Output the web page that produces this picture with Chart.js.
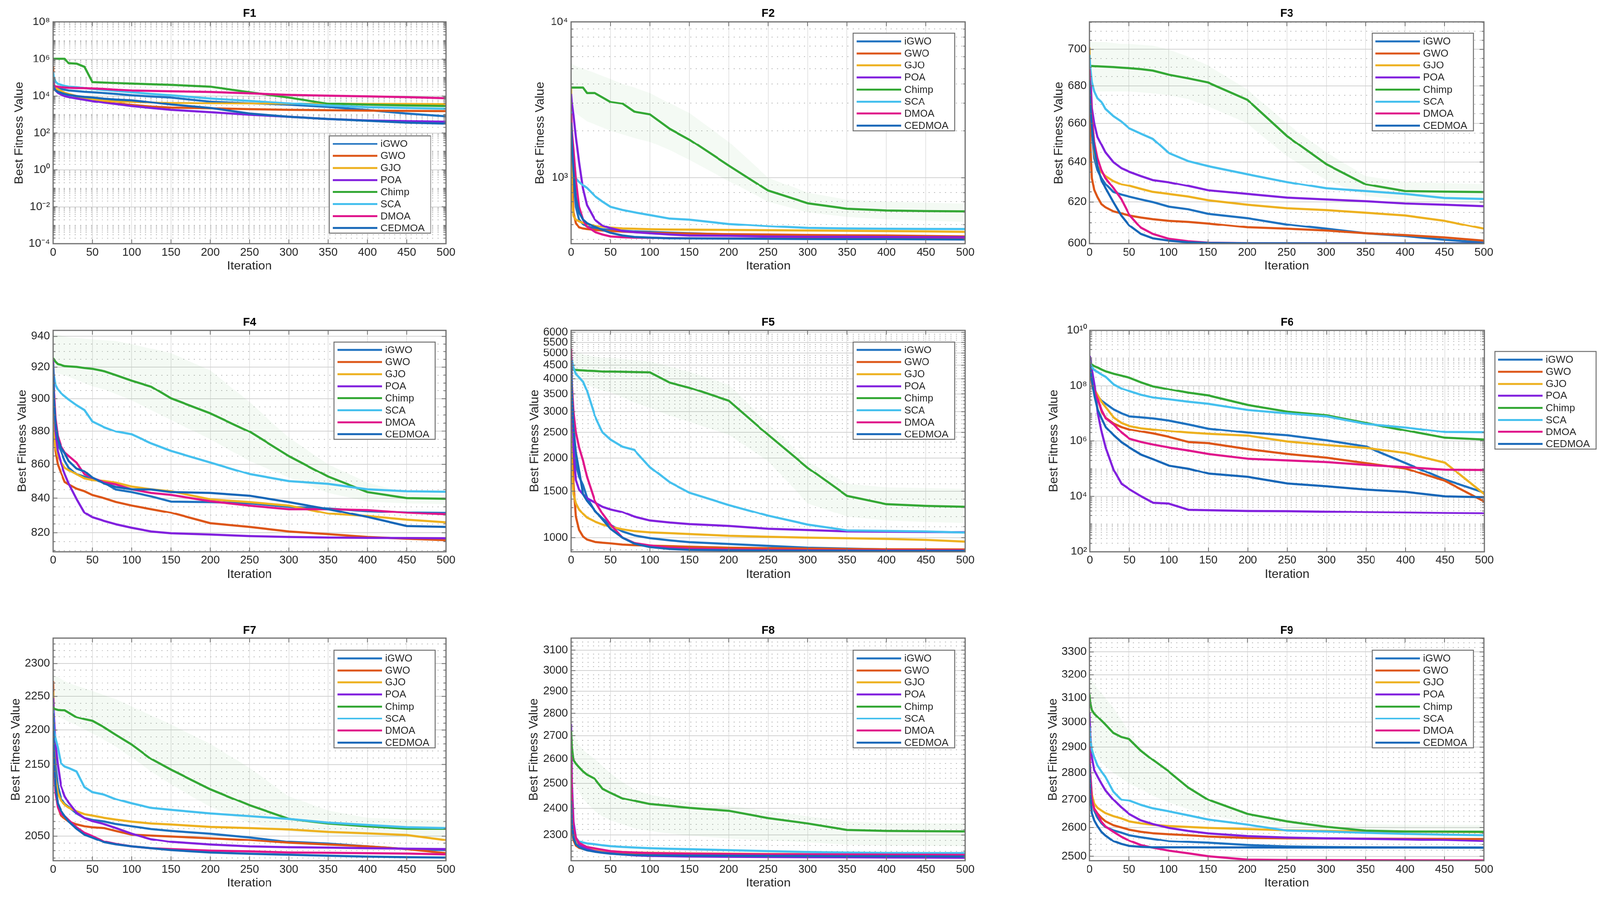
<!DOCTYPE html>
<html><head><meta charset="utf-8">
<script src="https://cdn.jsdelivr.net/npm/chart.js@4.4.1/dist/chart.umd.min.js"></script>
<style>
html,body{margin:0;padding:0;background:#fff;overflow:hidden;}
#root{position:absolute;left:0;top:0;width:4135px;height:2320px;overflow:hidden;background:#fff;}
canvas{position:absolute;}
</style></head><body>
<div id="root"></div>
<script>
// ---------------- DATA ----------------
const ITER = [0,1,3,6,10,15,20,30,40,50,65,80,100,125,150,200,250,300,350,400,450,500];
const X_TICKS = [0,50,100,150,200,250,300,350,400,450,500];
const SERIES = ['iGWO','GWO','GJO','POA','Chimp','SCA','DMOA','CEDMOA'];
const TITLES = ['F1','F2','F3','F4','F5','F6','F7','F8','F9'];

const F1_iGWO   = [6e4,3.5e4,3.0e4,2.7e4,2.4e4,2.2e4,2.0e4,1.85e4,1.7e4,1.6e4,1.45e4,1.3e4,1.1e4,9.5e3,8.3e3,5.0e3,4.0e3,3.3e3,2.5e3,1.7e3,1.1e3,7.9e2];
const F1_GWO    = [4e5,3e4,2.5e4,2.1e4,1.75e4,1.45e4,1.25e4,9.5e3,7.2e3,5.5e3,4.6e3,3.9e3,3.2e3,2.6e3,2.3e3,2.1e3,1.9e3,1.75e3,1.65e3,1.58e3,1.52e3,1.48e3];
const F1_GJO    = [8e4,3.5e4,2.8e4,2.3e4,1.9e4,1.5e4,1.3e4,1.0e4,8.0e3,6.6e3,5.8e3,5.2e3,4.7e3,4.4e3,4.2e3,4.0e3,3.9e3,3.8e3,3.7e3,3.6e3,3.6e3,3.5e3];
const F1_POA    = [1.9e5,3e4,2e4,1.5e4,1.2e4,1.0e4,8.8e3,7.4e3,6.3e3,5.3e3,4.3e3,3.6e3,2.8e3,2.2e3,1.75e3,1.3e3,9.5e2,7.4e2,5.6e2,4.7e2,4.3e2,4.0e2];
const F1_Chimp  = [1.05e6,1.05e6,1.05e6,1.05e6,1.05e6,1.05e6,5.8e5,5.5e5,3.7e5,5.6e4,5.3e4,5.0e4,4.7e4,4.3e4,4.0e4,3.2e4,1.6e4,8.3e3,3.8e3,3.3e3,3.0e3,2.8e3];
const F1_SCA    = [1.9e5,1.0e5,6e4,4.5e4,4.0e4,3.5e4,3.2e4,3.0e4,2.7e4,2.4e4,2.1e4,1.9e4,1.6e4,1.3e4,1.1e4,7.4e3,5.5e3,4.0e3,3.0e3,2.4e3,2.2e3,2.0e3];
const F1_DMOA   = [5.0e4,3.6e4,3.3e4,3.2e4,3.0e4,2.9e4,2.8e4,2.7e4,2.65e4,2.55e4,2.4e4,2.2e4,2.0e4,1.9e4,1.8e4,1.65e4,1.4e4,1.15e4,1.05e4,9.7e3,8.8e3,7.7e3];
const F1_CEDMOA = [4e4,2.5e4,2e4,1.7e4,1.5e4,1.3e4,1.15e4,1.0e4,9.0e3,8.3e3,7.2e3,6.5e3,5.9e3,4.5e3,3.4e3,2.2e3,1.1e3,7.4e2,5.6e2,4.5e2,3.6e2,3.2e2];

const F2_iGWO   = [2201,1800,966,649,538,504,484,472,465,460,455,450,447,442,438,430,427,424,422,420,418,415];
const F2_GWO    = [2795,966,599,511,478,470,466,460,456,453,449,445,441,438,436,432,430,427,425,424,421,418];
const F2_GJO    = [3740,741,568,538,525,513,504,491,482,476,470,468,465,463,462,460,458,456,454,452,450,447];
const F2_POA    = [3456,3000,2513,1827,1260,846,666,538,491,472,453,445,438,430,424,422,418,416,416,415,414,413];
const F2_Chimp  = [3793,3793,3793,3793,3793,3793,3503,3503,3280,3067,2987,2651,2547,2059,1756,1195,824,684,631,615,610,607];
const F2_SCA    = [2651,1800,1439,990,941,892,857,761,700,649,620,599,575,546,538,504,487,474,470,468,467,466];
const F2_DMOA   = [2581,2000,1517,966,649,538,484,447,430,418,413,411,410,408,407,406,405,405,404,404,404,404];
const F2_CEDMOA = [2260,1700,1103,741,599,538,511,482,460,441,424,415,411,407,406,405,404,403,402,402,401,400];

const F3_iGWO   = [684,672,655,642,636,632,629,625,623.7,622.7,621.3,620.0,617.8,616.5,614.3,612.2,609.1,607.0,604.8,603.5,601.7,600.4];
const F3_GWO    = [670,650,632,626,622.5,619,617.5,615.5,614.5,613.5,612.5,611.7,610.9,610.4,609.6,607.7,607.0,606.1,604.8,603.9,602.8,601.3];
const F3_GJO    = [701,680,660,645,638,635,633,630.5,628.8,628.1,626.5,625.0,624.0,622.7,620.9,618.7,617.0,616.1,614.8,613.5,610.9,607.0];
const F3_POA    = [696,688,668,660,653,649,645,640,637,635.2,633,631,629.9,628,625.8,624.0,622.2,621.3,620.4,619.3,618.7,618.0];
const F3_Chimp  = [690.7,690.7,690.7,690.6,690.5,690.4,690.3,690.1,689.8,689.5,689.0,688.2,686.0,684.0,681.8,672.5,653.5,639.0,628.8,625.4,625.1,624.9];
const F3_SCA    = [697,690,682,677,673.4,671.4,667.6,663.8,661,657.5,654.7,652,644.7,640.5,638.0,633.9,630.0,626.8,625.4,624.0,622.0,621.5];
const F3_DMOA   = [689,680,664,650,642,636,632,627,621.5,614,607.5,604.5,602.2,601,600.3,600.1,600.05,600.03,600.02,600.01,600.0,600.0];
const F3_CEDMOA = [683,672,658,647,638,631,627,620,613.5,608.7,604.5,602.4,601.3,600.5,600.2,600.05,600.02,600.01,600.0,600.0,600.0,600.0];

const F4_iGWO   = [915,895,880,872,868,862,858,854,852.5,851,849,845,843.5,841,838,837.7,837,835,834,832.5,831.7,831.5];
const F4_GWO    = [895,880,868,860,855,849.4,848,845.5,844,841.8,840,837.8,835.7,833.6,831.5,825.4,823.3,820.7,819.2,817.6,816.6,815.8];
const F4_GJO    = [900,880,870,865,861.5,858,856.5,854,851.5,850.5,850,849,846.7,845.1,844,839.3,837.7,835.7,831,829.5,827.4,825.9];
const F4_POA    = [924.7,905,880,868,861,854,848.5,839.5,831.5,828.8,826.7,824.8,822.8,820.7,819.7,819.0,818.1,817.6,817.3,817.1,817.0,816.9];
const F4_Chimp  = [925.7,925,923.5,922,921.5,920.7,920.5,920.2,919.5,919,917.5,915,911.5,907.7,900.3,891,879.7,864.9,852.6,843.5,840,839.6];
const F4_SCA    = [920,915,908.8,906,903.5,901.5,899.5,896,893,886,882.5,879.8,878,872.5,868,861.1,854.1,849.9,848.3,845.1,844,843.7];
const F4_DMOA   = [922.3,905,888,877,871,867,865,861,854,851.8,849.2,848,845.1,843,841.9,838.2,835.7,833.6,833.6,833.1,831.5,830.5];
const F4_CEDMOA = [922,900,885,875,870,866.6,862,857.5,855.8,852,848.5,846.5,845.1,845,843.5,843,841.4,837.7,833.6,829,823.8,823.3];

const F5_iGWO   = [4040,3200,2400,1900,1700,1580,1420,1260,1180,1115,1055,1020,996,977,962,947,932,917,910,903,899,896];
const F5_GWO    = [5100,2600,1600,1200,1070,1010,984,964,957,952,942,937,933,929,925,917,913,910,907,905,904,903];
const F5_GJO    = [2520,1800,1460,1350,1280,1230,1190,1150,1120,1100,1075,1058,1047,1040,1032,1016,1008,1000,995,989,981,966];
const F5_POA    = [5030,3500,2160,1650,1520,1460,1410,1360,1310,1280,1250,1200,1160,1140,1125,1107,1080,1068,1056,1053,1050,1048];
const F5_Chimp  = [4370,4350,4330,4320,4310,4300,4290,4280,4260,4260,4250,4240,4230,3870,3700,3300,2450,1840,1440,1340,1320,1310];
const F5_SCA    = [4880,4700,4400,4170,4050,3900,3600,2900,2500,2350,2210,2150,1850,1620,1480,1330,1210,1120,1065,1060,1055,1045];
const F5_DMOA   = [5200,3800,3000,2500,2200,1960,1700,1380,1230,1120,1000,955,935,917,910,903,900,898,897,896,896,896];
const F5_CEDMOA = [4700,3500,2600,2100,1800,1460,1380,1270,1170,1080,1000,950,922,907,900,896,894,893,893,892,892,892];

const F6_iGWO   = [6.3e8,3.2e8,1.26e8,6.3e7,4.0e7,2.8e7,2.2e7,1.38e7,1.0e7,7.8e6,7.2e6,6.6e6,5.5e6,4.0e6,2.8e6,2.0e6,1.6e6,1.05e6,6.3e5,1.6e5,4.0e4,1.35e4];
const F6_GWO    = [6.3e8,2.5e8,1.0e8,5.6e7,3.2e7,1.12e7,6.9e6,4.3e6,3.2e6,2.6e6,2.2e6,1.86e6,1.4e6,9.1e5,8.3e5,5.1e5,3.4e5,2.5e5,1.6e5,1.02e5,3.6e4,6.5e3];
const F6_GJO    = [5.0e8,2.5e8,1.26e8,7.1e7,4.4e7,2.5e7,1.66e7,7.1e6,4.5e6,3.5e6,2.9e6,2.6e6,2.3e6,2.0e6,1.8e6,1.55e6,9.5e5,7.1e5,5.6e5,3.7e5,1.66e5,1.2e4];
const F6_POA    = [1.17e9,7.9e8,3.2e8,1.0e8,1.0e7,2.0e6,5.6e5,8.9e4,2.8e4,1.8e4,1.0e4,5.9e3,5.5e3,3.3e3,3.2e3,3.0e3,2.95e3,2.8e3,2.7e3,2.6e3,2.5e3,2.45e3];
const F6_Chimp  = [6.9e8,6.3e8,5.6e8,5.0e8,4.5e8,3.8e8,3.3e8,2.7e8,2.3e8,1.95e8,1.32e8,9.5e7,7.4e7,5.5e7,4.4e7,2.0e7,1.15e7,8.5e6,4.5e6,2.4e6,1.3e6,1.12e6];
const F6_SCA    = [7.6e8,5.6e8,4.5e8,3.6e8,3.1e8,2.5e8,2.1e8,1.12e8,7.9e7,6.3e7,4.6e7,3.7e7,3.2e7,2.6e7,2.2e7,1.32e7,1.0e7,7.8e6,4.2e6,3.1e6,2.1e6,2.04e6];
const F6_DMOA   = [7.1e8,3.2e8,1.26e8,6.3e7,3.2e7,1.26e7,6.6e6,4.0e6,2.0e6,1.2e6,9.1e5,7.4e5,5.8e5,4.5e5,3.4e5,2.3e5,2.0e5,1.74e5,1.38e5,1.15e5,9.3e4,9.1e4];
const F6_CEDMOA = [6.3e8,3.2e8,1.26e8,4.0e7,1.32e7,6.3e6,3.2e6,1.6e6,8.9e5,5.8e5,3.2e5,2.2e5,1.3e5,1.0e5,6.6e4,5.0e4,2.9e4,2.3e4,1.74e4,1.45e4,1.0e4,9.3e3];

const F7_iGWO   = [2235,2200,2150,2120,2102,2094,2090,2081,2074.7,2072,2070,2066.5,2063.4,2059.6,2057.1,2053.3,2048.2,2041.9,2039.4,2035.7,2032,2030.7];
const F7_GWO    = [2273,2200,2120,2090,2078,2074,2070,2066,2063.4,2062,2061,2057,2052,2050.8,2049.5,2047,2044.5,2040.7,2038.2,2035.7,2032,2026.5];
const F7_GJO    = [2257,2180,2130,2110,2099,2093,2089,2084,2080,2078,2075,2072.5,2069.7,2067.2,2065.9,2062.6,2060.9,2059.1,2055.8,2053.8,2051.5,2044.5];
const F7_POA    = [2248,2220,2180,2150,2120,2105,2096,2082,2074.7,2070.5,2066.5,2061,2053.3,2045.7,2041.9,2038.2,2035.7,2034.5,2034,2033.2,2032.5,2032];
const F7_Chimp  = [2235,2232,2231,2230,2229.7,2229.5,2226,2219,2216,2213.5,2204,2193,2179,2158,2142.7,2115,2092.4,2073.5,2067.2,2063.4,2060.1,2060];
const F7_SCA    = [2230,2200,2188,2175,2152,2147,2145,2140,2118,2111,2107.6,2101,2095,2088.6,2086,2081,2077.3,2073.5,2068.4,2065.2,2062.1,2060.9];
const F7_DMOA   = [2200,2150,2110,2090,2080,2077.3,2072,2062,2054.5,2050,2042.5,2039,2035.7,2033.2,2032,2030,2029,2027.5,2027,2026.5,2026,2025];
const F7_CEDMOA = [2225,2170,2120,2095,2085,2077,2070,2060,2052,2048,2041.5,2038.5,2035.7,2033.2,2030.7,2027.5,2025.7,2024.5,2023.2,2022,2021.2,2020.7];

const F8_iGWO   = [2400,2320,2280,2262,2255,2250,2246,2241,2237,2234,2231,2229,2228,2227,2226,2225.5,2225,2224.5,2224,2223.5,2223,2223];
const F8_GWO    = [2420,2320,2280,2260,2252,2248,2245,2241,2238,2236,2234,2233,2232,2231,2230.5,2230,2229.5,2229,2228,2227.5,2227,2226];
const F8_GJO    = [2450,2350,2300,2270,2262,2255,2250,2246,2242,2240,2237,2235,2234,2233,2232,2231,2230,2229,2228.5,2228,2227.5,2227];
const F8_POA    = [2750,2500,2350,2290,2265,2255,2248,2240,2235,2232,2228,2225,2223,2222,2221,2220,2219,2218.5,2218,2217.5,2217,2216.3];
const F8_Chimp  = [2720,2650,2595,2580,2565,2548,2535,2518,2478,2462,2440,2430,2417,2410,2402,2391,2363,2343,2318.8,2315.3,2314,2313.2];
const F8_SCA    = [2400,2350,2320,2290,2276,2271,2268,2265,2261,2258,2255,2253,2250.4,2248.5,2247,2243.5,2240,2237,2234.7,2233.3,2233,2233];
const F8_DMOA   = [2610,2450,2330,2290,2270,2262,2255,2250,2245,2240,2237,2235,2233,2232,2231,2230,2229,2228.5,2228,2227.5,2227,2226.5];
const F8_CEDMOA = [2430,2340,2290,2265,2255,2248,2243,2238,2234,2231,2228,2226,2225,2224.5,2224,2223.5,2223,2222.5,2222,2222,2221.5,2221];

const F9_iGWO   = [2880,2800,2720,2660,2635,2615,2602,2590,2582,2573,2566,2560,2552,2549,2546,2538,2533,2531,2530,2529.5,2529,2528.7];
const F9_GWO    = [2800,2750,2700,2667,2650,2634,2622,2608,2600,2592.4,2585,2580,2576.4,2573.2,2568.8,2563.7,2562.4,2561.8,2561.1,2560.7,2560.3,2559.9];
const F9_GJO    = [2850,2780,2720,2685,2670,2660,2651,2640,2632,2621.6,2614.5,2609.5,2605.2,2602,2598.7,2594.3,2590.4,2587.9,2586,2585.5,2585,2584];
const F9_POA    = [3040,2950,2860,2810,2787,2760,2735,2700,2672,2648,2625,2612,2598.7,2588,2579.6,2570,2565,2562.4,2560.5,2558.6,2556,2552.2];
const F9_Chimp  = [3116,3080,3050,3035,3022,3006,2990,2956,2940,2932,2886,2850,2806,2745,2700,2648,2621.6,2602.5,2589,2586,2585.5,2585];
const F9_SCA    = [2983,2930,2890,2860,2828,2805,2785,2730,2700,2696.7,2680.4,2668,2657.5,2643,2628,2610,2589.2,2586,2581.5,2577.7,2575,2573.2];
const F9_DMOA   = [2903,2800,2700,2665,2648,2620,2604,2585,2568,2554,2538,2529,2519,2510,2500,2488.5,2487.3,2487,2486.5,2486.2,2486,2486];
const F9_CEDMOA = [2833,2720,2650,2625,2605,2585,2572,2552,2542,2535,2531.8,2530.2,2530,2530,2529.8,2529.7,2529.6,2529.5,2529.5,2529.5,2529.5,2529.5];

// Chimp spread bands (upper / lower edge of the shaded region)
const F2_CHIMP_HI = [5400,5400,5300,5200,5100,5000,4900,4700,4500,4300,4000,3800,3500,3000,2600,1700,1000,800,720,700,690,680];
const F2_CHIMP_LO = [2800,2800,2700,2600,2500,2400,2300,2200,2100,2000,1900,1800,1700,1500,1300,950,700,600,560,540,530,520];
const F3_CHIMP_HI = [704,704,704,704,704,704,704,703.5,703,703,702.5,702,700,696,691,678,660,645,633,630,629.5,629];
const F3_CHIMP_LO = [677,677,677,677,677,677,677,677,677,677,676.5,676,675,673,669,660,643,631,623,621,620.5,620];
const F4_CHIMP_HI = [942,942,941.5,941,940.5,940,939.5,939,938.5,938,937.5,937,935,932,929,918,898,876,860,849,843,842];
const F4_CHIMP_LO = [918,917,916.5,916,915.5,915,914,912,910,908,906,903,899,893,887,875,862,852,843,838,837,836.5];
const F5_CHIMP_HI = [5100,5100,5050,5000,5000,4950,4900,4850,4800,4800,4750,4700,4650,4450,4250,3800,2700,1950,1600,1550,1540,1530];
const F5_CHIMP_LO = [4100,4050,4000,3950,3900,3850,3800,3700,3600,3550,3400,3250,3100,2900,2750,2450,1950,1350,1200,1160,1145,1135];
const F7_CHIMP_HI = [2284,2283,2281,2279,2276,2273,2270,2266,2262,2258,2252,2246,2235,2222,2208,2180,2145,2105,2085,2075,2073,2072];
const F7_CHIMP_LO = [2224,2223,2222,2220,2218,2215,2212,2207,2201,2195,2186,2176,2160,2140,2122,2090,2068,2056,2051,2049,2048,2047];
const F8_CHIMP_HI = [2735,2720,2700,2680,2660,2640,2625,2600,2570,2540,2505,2475,2455,2440,2425,2410,2390,2370,2350,2345,2344,2343];
const F8_CHIMP_LO = [2600,2560,2520,2490,2465,2440,2420,2390,2370,2355,2340,2325,2315,2305,2298,2287,2280,2272,2263,2260,2259,2258];
const F9_CHIMP_HI = [3200,3190,3175,3160,3140,3120,3100,3060,3010,2960,2900,2845,2790,2740,2695,2650,2630,2618,2612,2610,2609,2609];
const F9_CHIMP_LO = [2924,2915,2900,2880,2860,2840,2825,2800,2780,2760,2740,2715,2690,2665,2645,2618,2603,2594,2590,2588,2587,2586];

// y tick labels (major) and axis limits
const F1_YTICKS = [1e-4,1e-2,1,1e2,1e4,1e6,1e8];
const F2_YTICKS = [1e3,1e4];
const F3_YTICKS = [600,620,640,660,680,700];
const F4_YTICKS = [820,840,860,880,900,920,940];
const F5_YTICKS = [1000,1500,2000,2500,3000,3500,4000,4500,5000,5500,6000];
const F6_YTICKS = [1e2,1e4,1e6,1e8,1e10];
const F7_YTICKS = [2050,2100,2150,2200,2250,2300];
const F8_YTICKS = [2300,2400,2500,2600,2700,2800,2900,3000,3100];
const F9_YTICKS = [2500,2600,2700,2800,2900,3000,3100,3200,3300];
const Y_LIMITS = [[1e-4,1e8],[376,1e4],[599.85,715.3],[809.3,943.9],[885,6100],[1e2,1e10],[2016.5,2339],[2206,3160],[2485,3362]];
const POW_LABELS = [true,true,false,false,false,true,false,false,false];
const MINOR_STEP = ['log','log',5,5,100,'log',10,20,20];

const PANEL_SERIES = [
  [F1_iGWO,F1_GWO,F1_GJO,F1_POA,F1_Chimp,F1_SCA,F1_DMOA,F1_CEDMOA],
  [F2_iGWO,F2_GWO,F2_GJO,F2_POA,F2_Chimp,F2_SCA,F2_DMOA,F2_CEDMOA],
  [F3_iGWO,F3_GWO,F3_GJO,F3_POA,F3_Chimp,F3_SCA,F3_DMOA,F3_CEDMOA],
  [F4_iGWO,F4_GWO,F4_GJO,F4_POA,F4_Chimp,F4_SCA,F4_DMOA,F4_CEDMOA],
  [F5_iGWO,F5_GWO,F5_GJO,F5_POA,F5_Chimp,F5_SCA,F5_DMOA,F5_CEDMOA],
  [F6_iGWO,F6_GWO,F6_GJO,F6_POA,F6_Chimp,F6_SCA,F6_DMOA,F6_CEDMOA],
  [F7_iGWO,F7_GWO,F7_GJO,F7_POA,F7_Chimp,F7_SCA,F7_DMOA,F7_CEDMOA],
  [F8_iGWO,F8_GWO,F8_GJO,F8_POA,F8_Chimp,F8_SCA,F8_DMOA,F8_CEDMOA],
  [F9_iGWO,F9_GWO,F9_GJO,F9_POA,F9_Chimp,F9_SCA,F9_DMOA,F9_CEDMOA]
];
const PANEL_BANDS = [null,[F2_CHIMP_HI,F2_CHIMP_LO],[F3_CHIMP_HI,F3_CHIMP_LO],[F4_CHIMP_HI,F4_CHIMP_LO],[F5_CHIMP_HI,F5_CHIMP_LO],null,
                     [F7_CHIMP_HI,F7_CHIMP_LO],[F8_CHIMP_HI,F8_CHIMP_LO],[F9_CHIMP_HI,F9_CHIMP_LO]];
const PANEL_YTICKS = [F1_YTICKS,F2_YTICKS,F3_YTICKS,F4_YTICKS,F5_YTICKS,F6_YTICKS,F7_YTICKS,F8_YTICKS,F9_YTICKS];

// ---------------- STYLE / LAYOUT ----------------
const COLORS = ['#1F72C0','#DD5618','#EDB120','#8221DE','#34A835','#45C0EE','#E0168C','#1767B8'];
const BAND_COLOR = 'rgba(52,168,53,0.055)';
const FONT = '"Liberation Sans", Arial, Helvetica, sans-serif';
const TEXT = '#262626';
const LINE_W = 5.5;
// plotLeft, plotRight, plotTop, plotBottom, titleCenterY, yTitleCenterX, xTitleCenterY, legendLeft, legendTop
const LAYOUT = [
  [137,1153,57,630,35,50,688,851,351],
  [1476,2495,57,630,35,1396,688,2205,86],
  [2816,3835,57,630,35,2737,688,3546,86],
  [137,1153,854,1426,834,58,1485,863,884],
  [1476,2495,854,1426,834,1382,1485,2205,884],
  [2817,3836,854,1426,834,2724,1485,3863,909],
  [137,1153,1650,2225,1630,41,2283,863,1681],
  [1476,2495,1650,2225,1630,1380,2283,2205,1681],
  [2816,3835,1650,2225,1630,2722,2283,3546,1681]
];

// fit the 4135x2320 design to the actual viewport
const root = document.getElementById('root');
const vw = document.documentElement.clientWidth || window.innerWidth;
const vh = document.documentElement.clientHeight || window.innerHeight;
const K = Math.min(vw / 4135, vh / 2320);
if (Math.abs(K - 1) > 0.001) { root.style.transformOrigin = '0 0'; root.style.transform = 'scale(' + K + ')'; }
const PR = Math.max(1, K * (window.devicePixelRatio || 1));

const SUP = {'0':'⁰','1':'¹','2':'²','3':'³','4':'⁴','5':'⁵','6':'⁶','7':'⁷','8':'⁸','9':'⁹','-':'⁻'};
function powLabel(v){ const e = Math.round(Math.log10(v)); return '10' + String(e).split('').map(c => SUP[c]).join(''); }

function buildYTicks(p){
  const [mn, mx] = Y_LIMITS[p];
  const majors = PANEL_YTICKS[p];
  const step = MINOR_STEP[p];
  const minors = [];
  if (step === 'log') {
    for (let e = Math.floor(Math.log10(mn)); e <= Math.ceil(Math.log10(mx)); e++)
      for (let k = 1; k < 10; k++) minors.push(k * Math.pow(10, e));
  } else {
    for (let v = Math.ceil(mn / step) * step; v <= mx; v += step) minors.push(v);
  }
  const all = majors.map(v => ({value: v, major: true}));
  minors.forEach(v => {
    if (v < mn * 0.99999 || v > mx * 1.00001) return;
    if (majors.some(M => Math.abs(M - v) / M < 1e-6)) return;
    all.push({value: v, major: false});
  });
  all.sort((a, b) => a.value - b.value);
  return all;
}

const framePlugin = {
  id: 'frame',
  afterDraw(chart, args, opts) {
    const ctx = chart.ctx, a = chart.chartArea, ys = chart.scales.y, xs = chart.scales.x;
    ctx.save();
    ctx.strokeStyle = '#6f6f6f';
    ctx.lineWidth = 2;
    ctx.setLineDash([]);
    ctx.beginPath();
    ys.ticks.forEach(t => {
      const p = ys.getPixelForValue(t.value);
      if (p < a.top - 0.5 || p > a.bottom + 0.5) return;
      const len = t.major ? 11 : 6;
      ctx.moveTo(a.left, p); ctx.lineTo(a.left + len, p);
      ctx.moveTo(a.right, p); ctx.lineTo(a.right - len, p);
    });
    xs.ticks.forEach(t => {
      const p = xs.getPixelForValue(t.value);
      ctx.moveTo(p, a.bottom); ctx.lineTo(p, a.bottom - 11);
      ctx.moveTo(p, a.top); ctx.lineTo(p, a.top + 11);
    });
    ctx.stroke();
    ctx.lineWidth = 3;
    ctx.strokeRect(a.left, a.top, a.right - a.left, a.bottom - a.top);
    // legend
    const lx = opts.lx, ly = opts.ly, W = 262, H = 252;
    ctx.fillStyle = '#ffffff';
    ctx.fillRect(lx, ly, W, H);
    ctx.strokeStyle = '#707070';
    ctx.lineWidth = 2.5;
    ctx.strokeRect(lx, ly, W, H);
    ctx.font = '26px ' + FONT;
    ctx.textBaseline = 'middle';
    ctx.textAlign = 'left';
    chart.data.datasets.filter(d => !d.isBand).forEach((d, i) => {
      const cy = ly + 21 + i * 31.1;
      ctx.strokeStyle = d.borderColor;
      ctx.lineWidth = 5;
      ctx.beginPath(); ctx.moveTo(lx + 9, cy); ctx.lineTo(lx + 124, cy); ctx.stroke();
      ctx.fillStyle = TEXT;
      ctx.fillText(d.label, lx + 132, cy + 1);
    });
    ctx.restore();
  }
};

PANEL_SERIES.forEach((series, p) => {
  const [L, R, T, B, tY, yTX, xTY, lgX, lgY] = LAYOUT[p];
  const cl = Math.round(yTX - 19.2);
  const ct = Math.round(tY - 16.8);
  const cb = Math.round(xTY + 19.2);
  const cr = (p === 5) ? 4135 : R + 30;
  const W = cr - cl, H = cb - ct;
  const yW = L - cl, xH = cb - B;
  const cv = document.createElement('canvas');
  cv.width = W; cv.height = H;
  cv.style.left = cl + 'px'; cv.style.top = ct + 'px';
  cv.style.width = W + 'px'; cv.style.height = H + 'px';
  root.appendChild(cv);
  const yt = buildYTicks(p);
  const usePow = POW_LABELS[p];
  const datasets = series.map((arr, i) => ({
    label: SERIES[i],
    data: ITER.map((x, j) => ({x: x, y: arr[j]})),
    borderColor: COLORS[i],
    backgroundColor: COLORS[i],
    borderWidth: LINE_W,
    borderJoinStyle: 'round',
    pointRadius: 0,
    fill: false,
    tension: 0,
    order: 10 - i
  }));
  const band = PANEL_BANDS[p];
  if (band) {
    datasets.push({label: 'Chimp band hi', isBand: true, data: ITER.map((x, j) => ({x: x, y: band[0][j]})),
      borderWidth: 0, borderColor: 'rgba(0,0,0,0)', pointRadius: 0, fill: false, order: 30});
    datasets.push({label: 'Chimp band lo', isBand: true, data: ITER.map((x, j) => ({x: x, y: band[1][j]})),
      borderWidth: 0, borderColor: 'rgba(0,0,0,0)', backgroundColor: BAND_COLOR, pointRadius: 0,
      fill: {target: datasets.length - 1}, order: 29});
  }
  new Chart(cv.getContext('2d'), {
    type: 'line',
    data: {datasets: datasets},
    options: {
      responsive: false,
      animation: false,
      devicePixelRatio: PR,
      layout: {padding: {left: 0, top: 0, bottom: 0, right: cr - R}},
      plugins: {
        legend: {display: false},
        tooltip: {enabled: false},
        title: {display: true, text: TITLES[p], fullSize: false, color: '#000',
                font: {family: FONT, size: 29, weight: 'bold', lineHeight: 1.2},
                padding: {top: 0, bottom: T - ct - 34.8}},
        frame: {lx: lgX - cl, ly: lgY - ct}
      },
      scales: {
        x: {
          type: 'linear', min: 0, max: 500,
          afterBuildTicks: s => { s.ticks = X_TICKS.map(v => ({value: v})); },
          afterFit: s => { s.height = xH; },
          ticks: {autoSkip: false, maxRotation: 0, padding: 6, color: TEXT, font: {family: FONT, size: 29}},
          grid: {drawTicks: false, color: '#dcdcdc', lineWidth: 1.5},
          border: {display: false},
          title: {display: true, text: 'Iteration', color: TEXT, font: {family: FONT, size: 32}, padding: {top: 0, bottom: 0}}
        },
        y: {
          type: 'logarithmic', min: Y_LIMITS[p][0], max: Y_LIMITS[p][1],
          afterBuildTicks: s => { s.ticks = yt.map(t => ({value: t.value, major: t.major})); },
          afterFit: s => { s.width = yW; },
          ticks: {autoSkip: false, padding: 8, color: TEXT, font: {family: FONT, size: 29},
                  callback: (v, i, ts) => (ts[i] && ts[i].major) ? (usePow ? powLabel(v) : String(v)) : ''},
          grid: {drawTicks: false,
                 color: c => (c.tick && c.tick.major) ? '#d2d2d2' : '#bdbdbd',
                 lineWidth: 2},
          border: {display: false, dash: c => (c.tick && c.tick.major) ? [] : [3, 11]},
          title: {display: true, text: 'Best Fitness Value', color: TEXT, font: {family: FONT, size: 32}, padding: {top: 0, bottom: 0}}
        }
      }
    },
    plugins: [framePlugin]
  });
});
</script>
</body></html>
